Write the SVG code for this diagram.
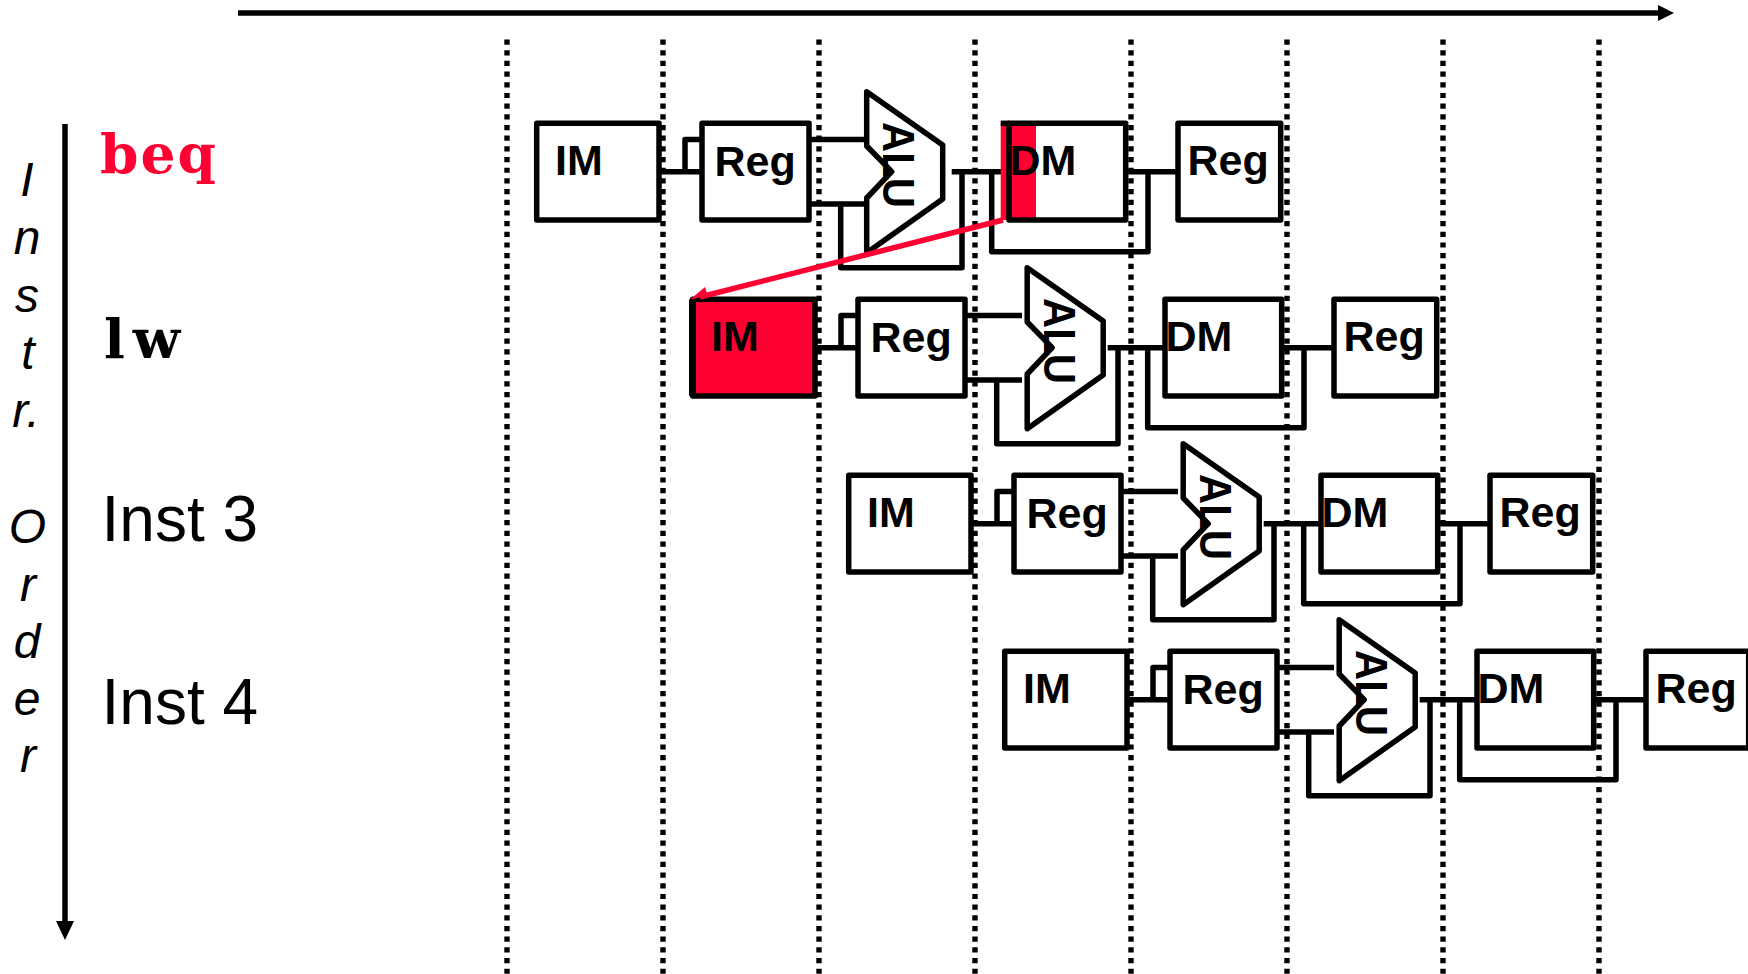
<svg xmlns="http://www.w3.org/2000/svg" width="1748" height="974" viewBox="0 0 1748 974">
<style>
.s{fill:none;stroke:#000;stroke-width:5.5;stroke-linejoin:round}
.b{fill:#fff;stroke:#000;stroke-width:5.5;stroke-linejoin:round}
.t{font:bold 43px "Liberation Sans",Arial,sans-serif;fill:#000}
.a{font:bold 45px "Liberation Sans",Arial,sans-serif;fill:#000}
.v{fill:none;stroke:#000;stroke-width:5.4;stroke-dasharray:5.2 5.48}
.i{font:italic 48px "Liberation Sans",Arial,sans-serif;fill:#000;text-anchor:middle}
.l{font:64px "Liberation Sans",Arial,sans-serif;fill:#000}
.m{font:bold 55px "DejaVu Serif","Courier New",monospace}
.ax{fill:none;stroke:#000;stroke-width:5.5}
</style>
<defs>
<g id="stage">
<path class="s" d="M660 171.700H702M685 171.700V139.500H702M809 139.500H866M809 204H866M840.700 204V267.700H962V171.700M951.700 171.700H1009M991.700 171.700V251.700H1148V171.700M1125 171.700H1178"/>
</g>
<g id="alu"><path class="b" d="M866.700 91.700L942.700 145V199L866.700 252.700V198L891.700 171.700L866.700 146Z"/></g>
</defs>
<g id="grid">
<path class="v" d="M507 39.500V974"/><path class="v" d="M663 39.500V974"/><path class="v" d="M819 39.500V974"/><path class="v" d="M975 39.500V974"/><path class="v" d="M1131 39.500V974"/><path class="v" d="M1287 39.500V974"/><path class="v" d="M1443 39.500V974"/><path class="v" d="M1599 39.500V974"/>
</g>
<g id="axes">
<path class="ax" d="M238 13H1660"/><path d="M1658 5L1674 13L1658 21Z"/>
<path class="ax" d="M65 124V923"/><path d="M56 921H74L65 940Z"/>
</g>
<g id="connectors">
<use href="#stage"/>
<use href="#stage" x="156" y="176"/>
<use href="#stage" x="312" y="352"/>
<use href="#stage" x="468" y="528"/>
</g>
<g id="row1">
<g id="im1"><rect class="b" x="536.700" y="123.300" width="122.300" height="96.700"/><text class="t" x="555" y="175">IM</text></g>
<g id="reg1a"><rect class="b" x="702" y="123.300" width="107" height="96.700"/><text class="t" x="714.500" y="176">Reg</text></g>
<g id="alu1"><use href="#alu"/><text class="a" transform="translate(883 122) rotate(90)" textLength="86" lengthAdjust="spacingAndGlyphs">ALU</text></g>
<g id="dm1"><rect x="1000.700" y="123.300" width="35.300" height="96.700" fill="#ff0033"/><path d="M1000.700 123.300H1009" class="s"/><rect class="s" x="1009" y="123.300" width="116.700" height="96.700"/><text class="t" x="1009.500" y="175">DM</text></g>
<g id="reg1b"><rect class="b" x="1178" y="123.300" width="102.700" height="96.700"/><text class="t" x="1187.500" y="175">Reg</text></g>
</g>
<g id="row2" transform="translate(156 176)">
<g id="im2"><rect x="536.700" y="123.300" width="122.300" height="96.700" fill="#ff0033" stroke="#000" stroke-width="5.500" stroke-linejoin="round"/><path d="M536.500 123.300V220" stroke="#000" stroke-width="7" fill="none"/><text class="t" x="555" y="175">IM</text></g>
<g id="reg2a"><rect class="b" x="702" y="123.300" width="107" height="96.700"/><text class="t" x="714.500" y="176">Reg</text></g>
<g id="alu2" transform="translate(4.500 0)"><use href="#alu"/><text class="a" transform="translate(883 122) rotate(90)" textLength="86" lengthAdjust="spacingAndGlyphs">ALU</text></g>
<g id="dm2"><rect class="s" x="1009" y="123.300" width="116.700" height="96.700"/><text class="t" x="1009.500" y="175">DM</text></g>
<g id="reg2b"><rect class="b" x="1178" y="123.300" width="102.700" height="96.700"/><text class="t" x="1187.500" y="175">Reg</text></g>
</g>
<g id="row3" transform="translate(312 352)">
<g id="im3"><rect class="b" x="536.700" y="123.300" width="122.300" height="96.700"/><text class="t" x="555" y="175">IM</text></g>
<g id="reg3a"><rect class="b" x="702" y="123.300" width="107" height="96.700"/><text class="t" x="714.500" y="176">Reg</text></g>
<g id="alu3" transform="translate(4.500 0)"><use href="#alu"/><text class="a" transform="translate(883 122) rotate(90)" textLength="86" lengthAdjust="spacingAndGlyphs">ALU</text></g>
<g id="dm3"><rect class="s" x="1009" y="123.300" width="116.700" height="96.700"/><text class="t" x="1009.500" y="175">DM</text></g>
<g id="reg3b"><rect class="b" x="1178" y="123.300" width="102.700" height="96.700"/><text class="t" x="1187.500" y="175">Reg</text></g>
</g>
<g id="row4" transform="translate(468 528)">
<g id="im4"><rect class="b" x="536.700" y="123.300" width="122.300" height="96.700"/><text class="t" x="555" y="175">IM</text></g>
<g id="reg4a"><rect class="b" x="702" y="123.300" width="107" height="96.700"/><text class="t" x="714.500" y="176">Reg</text></g>
<g id="alu4" transform="translate(4.500 0)"><use href="#alu"/><text class="a" transform="translate(883 122) rotate(90)" textLength="86" lengthAdjust="spacingAndGlyphs">ALU</text></g>
<g id="dm4"><rect class="s" x="1009" y="123.300" width="116.700" height="96.700"/><text class="t" x="1009.500" y="175">DM</text></g>
<g id="reg4b"><rect class="b" x="1178" y="123.300" width="102.700" height="96.700"/><text class="t" x="1187.500" y="175">Reg</text></g>
</g>
<g id="branch">
<path d="M1003 220L700 297" fill="none" stroke="#ff0033" stroke-width="5.500"/>
<path d="M690 299.500L705 287L708 296Z" fill="#ff0033"/>
</g>
<g id="labels">
<text class="i" x="27" y="196">I</text><text class="i" x="27" y="254">n</text><text class="i" x="27" y="312">s</text><text class="i" x="28" y="369">t</text><text class="i" x="26" y="427">r.</text>
<text class="i" x="27.500" y="543">O</text><text class="i" x="28" y="601">r</text><text class="i" x="27" y="658">d</text><text class="i" x="27" y="715">e</text><text class="i" x="28" y="772">r</text>
<text class="m" x="100" y="173" fill="#ff0033" textLength="116">beq</text>
<text class="m" x="104" y="358" fill="#000" textLength="76">lw</text>
<text class="l" x="101.500" y="541">Inst 3</text>
<text class="l" x="101.500" y="724">Inst 4</text>
</g>
</svg>
